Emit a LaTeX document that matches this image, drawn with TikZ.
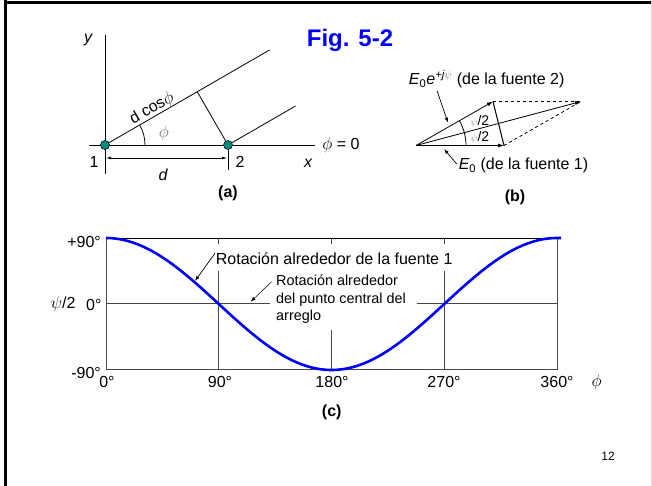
\documentclass[tikz,border=0pt]{standalone}
\usepackage{fontspec}
\setmainfont{Liberation Sans}
\usetikzlibrary{arrows.meta,calc}
\definecolor{figc}{RGB}{0,0,255}
\definecolor{srcc}{RGB}{0,140,130}
\definecolor{gridc}{RGB}{70,70,70}
\tikzset{
  lbl/.style={font=\fontsize{16}{18}\selectfont,inner sep=0pt},
  sml/.style={font=\fontsize{14.4}{17.5}\selectfont,inner sep=0pt,align=left},
  tny/.style={font=\fontsize{14}{15}\selectfont,inner sep=0pt},
  dot/.style={circle,draw=black,fill=srcc,line width=0.6pt,minimum size=9pt,inner sep=0pt},
  thn/.style={line width=0.8pt,black},
  vec/.style={line width=0.8pt,black,-{Latex[length=6pt,width=4pt]}},
  dsh/.style={line width=0.8pt,black,dashed},
  dim/.style={line width=0.7pt,black,{Latex[length=5pt,width=3pt]}-{Latex[length=5pt,width=3pt]}},
  call/.style={line width=0.7pt,black,-{Latex[length=5pt,width=3.5pt]}},
  grd/.style={line width=1pt,gridc},
  curve/.style={line width=2.6pt,figc},
}
\newcommand{\halfpsi}{{\color{black!50}\fontsize{10}{11}\selectfont$\psi$}/2}
\begin{document}
\begin{tikzpicture}[x=1pt,y=1pt]
  \useasboundingbox (0,0) rectangle (652,486);
  % frame
  \coordinate (fa) at (4,483.5); \coordinate (fb) at (652,483.5);
  \coordinate (fc) at (5,486); \coordinate (fd) at (5,0);
  \draw[line width=3pt] (fa)--(fb); \draw[line width=3pt] (fc)--(fd);
  \draw[black!15,line width=1pt] (651,486)--(651,0);
  \node[font=\fontsize{24}{26}\selectfont\bfseries,text=figc,inner sep=0pt] (title) at (350,446){Fig. 5-2};

  % (a) geometry
  \coordinate (S1) at (105,341); \coordinate (S2) at (228,341);
  \coordinate (ytop) at (105,451); \coordinate (ybot) at (105,312);
  \coordinate (xl) at (89,341); \coordinate (xr) at (315,341);
  \coordinate (P1) at ($(S1)+(30:190)$); \coordinate (P2) at ($(S2)+(30:78)$);
  \coordinate (F) at ($(S1)!(S2)!(P1)$);
  \coordinate (T2) at (228,316);
  \draw[thn](ytop)--(ybot); \draw[thn](xl)--(xr);
  \draw[thn](S1)--(P1); \draw[thn](S2)--(P2); \draw[thn](S2)--(F); \draw[thn](S2)--(T2);
  \draw[thn] ($(S1)+(40,0)$) arc[start angle=0,end angle=30,radius=40pt];
  \coordinate (D1) at (106,328); \coordinate (D2) at (227,328);
  \draw[dim](D1)--(D2);
  \node[dot] (s1) at (S1){}; \node[dot] (s2) at (S2){};
  \node[lbl,rotate=30] (dcos) at (152,377.5){d cos$\phi$};
  \node[lbl,black!55] (phia) at (164,353){$\phi$};
  \node[lbl] (n1) at (94,324){1}; \node[lbl] (n2) at (240,324){2};
  \node[lbl] (dl) at (163,311){\itshape d};
  \node[lbl] (xlab) at (308,323){\itshape x}; \node[lbl] (ylab) at (88,446){\itshape y};
  \node[lbl] (phi0) at (341,341){$\phi$ = 0};
  \node[lbl,font=\fontsize{16}{18}\selectfont\bfseries] (capa) at (228,293){(a)};

  % (b) phasors
  \coordinate (O) at (416,340.5); \coordinate (A) at (504,340.5);
  \coordinate (B) at (493,384.5); \coordinate (R) at ($(A)+(B)-(O)$);
  \draw[dsh](B)--(R); \draw[dsh](A)--(R);
  \draw[vec](O)--(A); \draw[vec](O)--(B); \draw[vec](O)--(R);
  \draw[line width=1pt](B)--(A);
  \draw[thn] ($(O)+(50,0)$) arc[start angle=0,end angle=15,radius=50pt];
  \draw[thn] ($(O)+(15:50)$) arc[start angle=15,end angle=29.7,radius=50pt];
  \node[tny] (psiu) at (480,364.5){\halfpsi}; \node[tny] (psil) at (480,348.5){\halfpsi};
  \node[lbl] (e2) at (486.7,407){\itshape E\textsubscript{\upshape 0}e\textsuperscript{+j{\color{black!55}$\psi$}}\upshape{} (de la fuente 2)};
  \node[lbl] (e1) at (523.5,320.5){\itshape E\textsubscript{\upshape 0}\upshape{} (de la fuente 1)};
  \coordinate (c2a) at (437,395.3); \coordinate (c2b) at (448,363.3);
  \coordinate (c1a) at (456.7,322); \coordinate (c1b) at (444,337);
  \draw[call](c2a)--(c2b); \draw[call](c1a)--(c1b);
  \node[lbl,font=\fontsize{16}{18}\selectfont\bfseries] (capb) at (515,289){(b)};

  % (c) plot of psi/2 against phi
  \coordinate (bl) at (106,116); \coordinate (br) at (557,116);
  \coordinate (tl) at (106,248); \coordinate (tr) at (557,248);
  \draw[grd](tl)--(bl)--(br)--(tr); \draw[thn](tl)--(tr);
  \foreach \n/\x in {a/218.75,b/331.5,c/444.25}{
    \coordinate (g\n) at (\x,116); \coordinate (k\n) at (\x,248);
    \draw[grd](k\n)--++(0,-6);}
  \draw[grd](ga)--++(0,99); \draw[grd](gb)--++(0,40); \draw[grd](gc)--++(0,99);
  \coordinate (z0) at (106,182); \coordinate (z1) at (270,182);
  \coordinate (z2) at (417,182); \coordinate (z3) at (557,182);
  \draw[grd](z0)--(z1); \draw[grd](z2)--(z3);
  \draw[curve] plot[domain=0:360,samples=91,smooth] ({106+\x*1.25278},{182+66*cos(\x)}) -- ++(4,0);
  \node[lbl,anchor=east] (yp) at (101,244.3){+90°};
  \node[lbl,anchor=east] (ym) at (101,113){-90°};
  \node[lbl,anchor=east] (y0) at (101.7,181.5){0°};
  \node[lbl] (ypsi) at (63,181.5){$\psi$/2};
  \foreach \t/\x in {0/107,90/220,180/332,270/444,360/557}{
    \node[lbl] (t\t) at (\x,104.3){\t°};}
  \node[lbl] (phic) at (596.7,104.3){$\phi$};
  \node[lbl,anchor=west] (rot1) at (215.7,227.7){Rotación alrededor de la fuente 1};
  \node[sml,anchor=north west] (rot2) at (276,211){Rotación alrededor\\del punto central del\\arreglo};
  \coordinate (r1a) at (215,232.7); \coordinate (r1b) at (195,205);
  \coordinate (r2a) at (271.7,204.3); \coordinate (r2b) at (250.7,184.3);
  \draw[call](r1a)--(r1b); \draw[line width=0.5pt,-{Latex[length=5pt,width=3.5pt]}](r2a)--(r2b);
  \node[lbl,font=\fontsize{16}{18}\selectfont\bfseries] (capc) at (331.7,73.3){(c)};
  \node[font=\fontsize{12}{14}\selectfont,inner sep=0pt] (pg) at (608,29.3){12};
\end{tikzpicture}
\end{document}
